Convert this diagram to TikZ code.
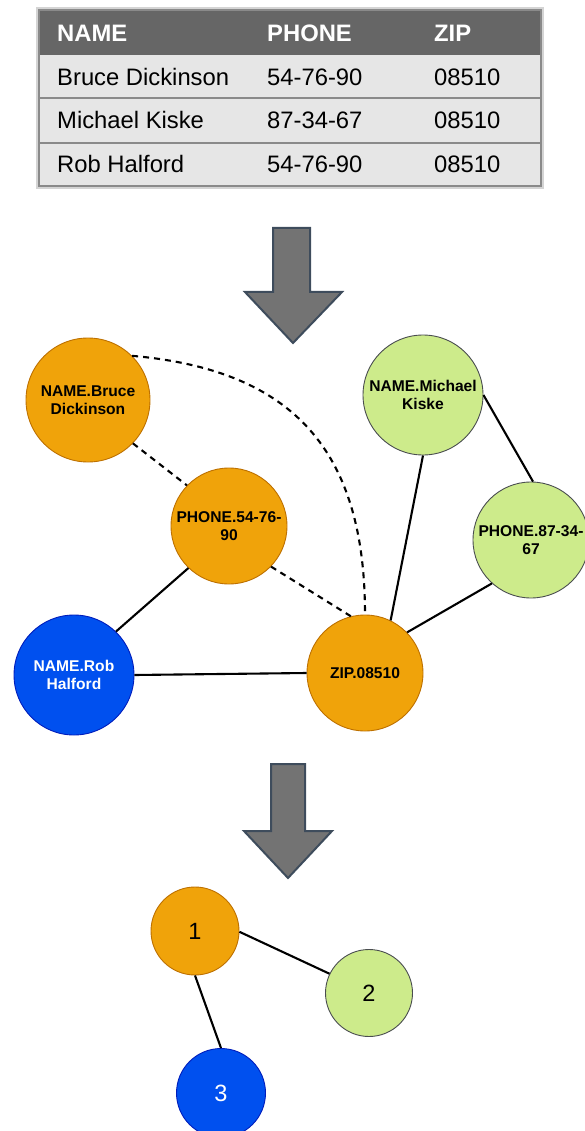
\documentclass[tikz,border=0pt]{standalone}
\usepackage{fontspec}
\setmainfont{Liberation Sans}
\definecolor{hdrgray}{HTML}{666666}
\definecolor{rowgray}{HTML}{E6E6E6}
\definecolor{gridgray}{HTML}{8A8A8A}
\definecolor{framegray}{HTML}{D4D4D4}
\definecolor{arrowfill}{HTML}{737373}
\definecolor{arrowedge}{HTML}{3E4C5C}
\definecolor{orfill}{HTML}{F0A30A}
\definecolor{oredge}{HTML}{BD7000}
\definecolor{grfill}{HTML}{CDEB8B}
\definecolor{gredge}{HTML}{4A4D50}
\definecolor{blfill}{HTML}{0050EF}
\definecolor{bledge}{HTML}{001DBC}
\tikzset{
  hdrtext/.style={anchor=base west, inner sep=0, text=white, font=\fontsize{23.8}{28}\selectfont\bfseries},
  celltext/.style={anchor=base west, inner sep=0, text=black, font=\fontsize{23.8}{28}\selectfont},
  bigarrow/.style={fill=arrowfill, draw=arrowedge, line width=2pt, line join=miter},
  vertex/.style={circle, inner sep=0, align=center, line width=0.9pt,
                 font=\fontsize{15.6}{17.5}\selectfont\bfseries},
  orv/.style={vertex, fill=orfill, draw=oredge, text=black},
  grv/.style={vertex, fill=grfill, draw=gredge, text=black},
  blv/.style={vertex, fill=blfill, draw=bledge, text=white},
  numv/.style={font=\fontsize{23.5}{26}\selectfont},
  link/.style={draw=black, line width=2.1pt},
  dlink/.style={link, dash pattern=on 6pt off 5pt}
}
\begin{document}
\begin{tikzpicture}[x=1pt, y=-1pt]
\useasboundingbox (0,0) rectangle (585,1131);
\clip (0,0) rectangle (585,1131);

% ---- source table ----
\draw[framegray, line width=2pt] (37,8) rectangle (543,188);
\fill[hdrgray] (39,10) rectangle (541,55);
\fill[rowgray] (39,55) rectangle (541,186);
\draw[gridgray, line width=1.4pt] (39,98) -- (541,98);
\draw[gridgray, line width=1.4pt] (39,143) -- (541,143);
\draw[gridgray, line width=1.4pt] (39,10) rectangle (541,186);

\node[hdrtext] (hname)  at (57,41.5)  {NAME};
\node[hdrtext] (hphone) at (267,41.5) {PHONE};
\node[hdrtext] (hzip)   at (434,41.5) {ZIP};

\node[celltext] (r1n) at (57,86)  {Bruce Dickinson};
\node[celltext] (r1p) at (267,86) {54-76-90};
\node[celltext] (r1z) at (434,86) {08510};
\node[celltext] (r2n) at (57,129)  {Michael Kiske};
\node[celltext] (r2p) at (267,129) {87-34-67};
\node[celltext] (r2z) at (434,129) {08510};
\node[celltext] (r3n) at (57,173)  {Rob Halford};
\node[celltext] (r3p) at (267,173) {54-76-90};
\node[celltext] (r3z) at (434,173) {08510};

% ---- block arrows ----
\draw[bigarrow] (273,228) -- (310,228) -- (310,292) -- (342,292) -- (293,343)
  -- (245,292) -- (273,292) -- cycle;
\draw[bigarrow] (271,764) -- (305,764) -- (305,831) -- (332,831) -- (288,878)
  -- (244,831) -- (271,831) -- cycle;

% ---- value graph ----
\node[orv, minimum size=124pt] (bruce) at (88,400)  {NAME.Bruce\\Dickinson};
\node[orv, minimum size=116pt] (p54)   at (229,526) {PHONE.54-76-\\90};
\node[grv, minimum size=120pt] (mk)    at (423,395) {NAME.Michael\\Kiske};
\node[grv, minimum size=116pt] (p87)   at (531,540) {PHONE.87-34-\\67};
\node[orv, minimum size=116pt] (zip)   at (365,673) {ZIP.08510};
\node[blv, minimum size=120pt] (rob)   at (74,675)  {NAME.Rob\\Halford};

\draw[dlink] (bruce.-44) -- (p54.136);
\draw[dlink] (bruce.45) to[out=-5, in=90, looseness=1.2] (zip.90);
\draw[dlink] (p54.-44) -- (zip.104);
\draw[link] (p54.-134) -- (rob.46);
\draw[link] (rob.east) -- (zip.west);
\draw[link] (mk.-90) -- (zip.64);
\draw[link] (mk.0) -- (p87.88);
\draw[link] (zip.44) -- (p87.-132);

% ---- component graph ----
\node[orv, numv, minimum size=88pt] (c1) at (195,931)  {1};
\node[grv, numv, minimum size=87pt] (c2) at (369,993)  {2};
\node[blv, numv, minimum size=89pt] (c3) at (221,1093) {3};

\draw[link] (c1.-1) -- (c2.154);
\draw[link] (c1.-90) -- (c3.90);
\end{tikzpicture}
\end{document}
